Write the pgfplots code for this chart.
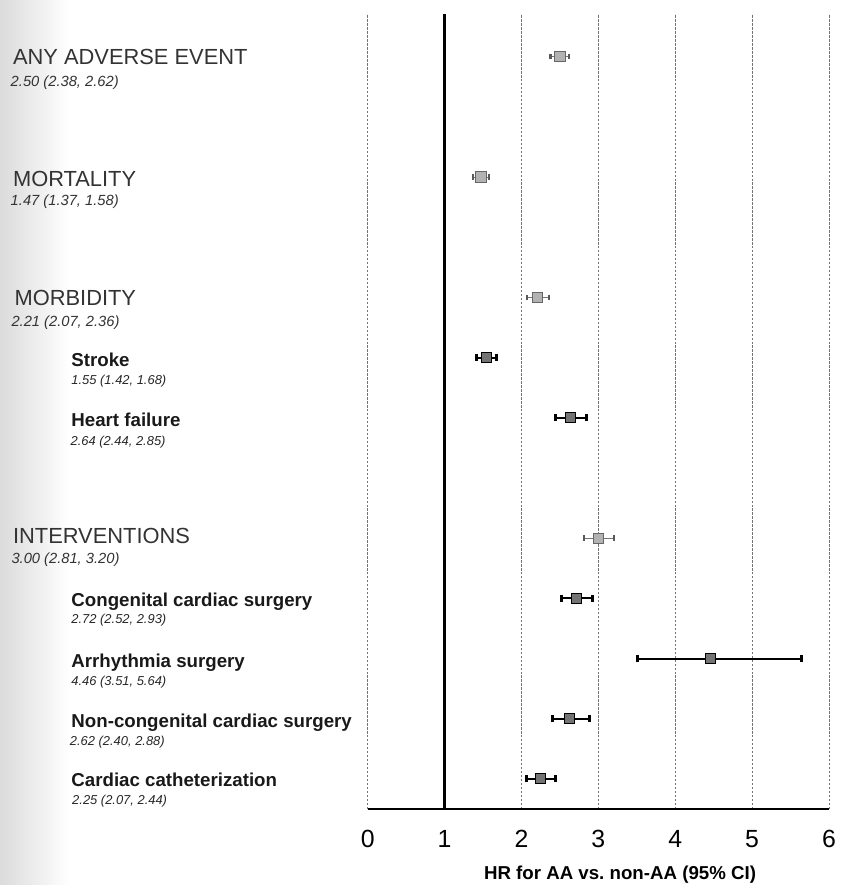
\documentclass[border=0pt]{standalone}
\usepackage{pgfplots}
\pgfplotsset{compat=1.18}
\usepackage{pgfplotstable}
\usepackage{fontspec}
\setmainfont{Liberation Sans}

\pgfplotstableread{
x lo hi y
2.50 2.38 2.62 0
1.47 1.37 1.58 -2
2.21 2.07 2.36 -4
3.00 2.81 3.20 -8
}\summary
\pgfplotstableread{
x lo hi y
1.55 1.42 1.68 -5
2.64 2.44 2.85 -6
2.72 2.52 2.93 -9
4.46 3.51 5.64 -10
2.62 2.40 2.88 -11
2.25 2.07 2.44 -12
}\subs

\tikzset{
  lab/.style={anchor=west, inner sep=0pt, text height=0.716em, text depth=0pt},
  hdr/.style={lab, font=\fontsize{11}{13}\selectfont, text=black!80},
  hval/.style={lab, font=\itshape\fontsize{7.4}{9}\selectfont, text=black!80},
  sname/.style={lab, font=\bfseries\fontsize{9.4}{11}\selectfont, text=black!90},
  sval/.style={lab, font=\itshape\fontsize{6.5}{8}\selectfont, text=black!85},
}

\begin{document}
\begin{tikzpicture}
\shade[left color=black!14, right color=white] (-185pt,-38pt) rectangle (-150pt,407pt);
\begin{axis}[
  scale only axis, width=232pt, height=400pt,
  xmin=0, xmax=6, ymin=-12.5, ymax=0.71,
  axis x line*=bottom, axis y line=none,
  x axis line style={line width=1pt, black, -},
  xtick={0,1,2,3,4,5,6}, ytick=\empty, major tick length=0pt,
  xmajorgrids, grid style={black!55, line width=0.4pt, dash pattern=on 1.2pt off 0.8pt},
  ticklabel style={font=\fontsize{12.5}{14}\selectfont},
  /pgf/number format/assume math mode=true,
  xticklabel style={anchor=center, yshift=-15pt},
  xlabel={HR for AA vs.\ non-AA (95\% CI)},
  xlabel style={font=\bfseries\fontsize{9.4}{11}\selectfont, at={(axis description cs:0.547,-0.0825)}, anchor=center},
  clip=false,
]
\addplot[black, line width=1.2pt] coordinates {(1,-12.5) (1,0.71)};

\addplot[only marks, mark=square*, mark size=2.6pt,
  mark options={fill=black!30, draw=black!60, line width=0.4pt},
  error bars/.cd, x dir=both, x explicit,
  error bar style={black!55, line width=0.5pt},
  error mark=|, error mark options={black!65, line width=1.2pt, mark size=1.4pt}]
  table[x=x, y=y, x error plus expr=\thisrow{hi}-\thisrow{x}, x error minus expr=\thisrow{x}-\thisrow{lo}] {\summary};

\addplot[only marks, mark=square*, mark size=2.5pt,
  mark options={fill=black!55, draw=black, line width=0.5pt},
  error bars/.cd, x dir=both, x explicit,
  error bar style={black, line width=1pt},
  error mark=|, error mark options={black, line width=1.5pt, mark size=1.75pt}]
  table[x=x, y=y, x error plus expr=\thisrow{hi}-\thisrow{x}, x error minus expr=\thisrow{x}-\thisrow{lo}] {\subs};

\node[hdr]  at (axis cs:-4.62,-0.02) {ANY ADVERSE EVENT};
\node[hval] at (axis cs:-4.65,-0.38) {2.50 (2.38, 2.62)};
\node[hdr]  at (axis cs:-4.62,-2.04) {MORTALITY};
\node[hval] at (axis cs:-4.65,-2.36) {1.47 (1.37, 1.58)};
\node[hdr]  at (axis cs:-4.60,-4.02) {MORBIDITY};
\node[hval] at (axis cs:-4.64,-4.36) {2.21 (2.07, 2.36)};
\node[sname] at (axis cs:-3.86,-5.03) {Stroke};
\node[sval]  at (axis cs:-3.86,-5.33) {1.55 (1.42, 1.68)};
\node[sname] at (axis cs:-3.86,-6.02) {Heart failure};
\node[sval]  at (axis cs:-3.87,-6.35) {2.64 (2.44, 2.85)};
\node[hdr]  at (axis cs:-4.62,-7.97) {INTERVENTIONS};
\node[hval] at (axis cs:-4.64,-8.30) {3.00 (2.81, 3.20)};
\node[sname] at (axis cs:-3.86,-9.02) {Congenital cardiac surgery};
\node[sval]  at (axis cs:-3.86,-9.30) {2.72 (2.52, 2.93)};
\node[sname] at (axis cs:-3.86,-10.03) {Arrhythmia surgery};
\node[sval]  at (axis cs:-3.86,-10.33) {4.46 (3.51, 5.64)};
\node[sname] at (axis cs:-3.86,-11.03) {Non-congenital cardiac surgery};
\node[sval]  at (axis cs:-3.88,-11.33) {2.62 (2.40, 2.88)};
\node[sname] at (axis cs:-3.86,-12.00) {Cardiac catheterization};
\node[sval]  at (axis cs:-3.85,-12.30) {2.25 (2.07, 2.44)};
\end{axis}
\path (-185pt,-38pt) rectangle (235pt,407pt);
\end{tikzpicture}
\end{document}
